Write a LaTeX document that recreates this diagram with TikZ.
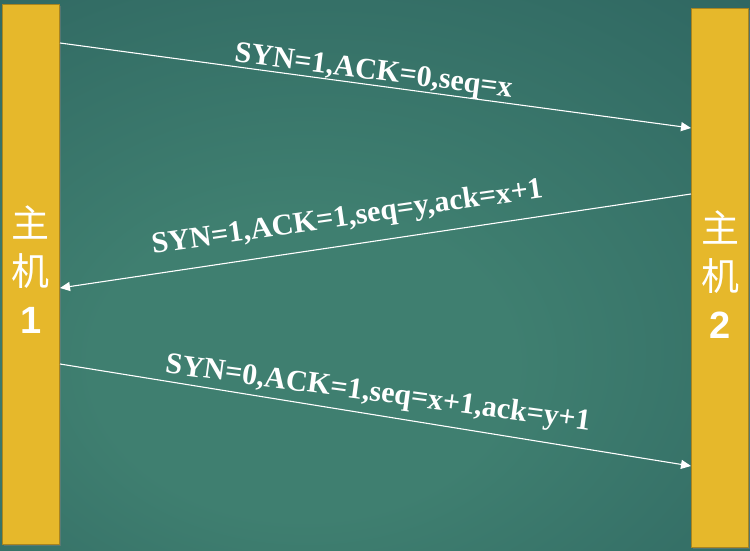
\documentclass[tikz,border=0pt]{standalone}
\usepackage{fontspec}
\setmainfont{Liberation Serif}
\newfontfamily\cjkfont{Noto Sans CJK SC}
\newfontfamily\numfont{Liberation Sans}
\usetikzlibrary{arrows.meta,shadows}
\definecolor{boardin}{HTML}{3F7F70}
\definecolor{boardout}{HTML}{1C4A50}
\definecolor{hostgold}{HTML}{E6B82B}
\definecolor{hostedge}{HTML}{A8841F}
\pgfdeclareradialshading{board}{\pgfpoint{-6bp}{-10bp}}{color(0bp)=(boardin); color(14bp)=(boardin); color(72bp)=(boardout)}
\begin{document}
\begin{tikzpicture}[x=1pt,y=-1pt,
  host/.style={draw=hostedge,line width=1pt,fill=hostgold,minimum width=57pt,inner sep=0pt,
    drop shadow={shadow xshift=1.5pt,shadow yshift=-1.5pt,opacity=0.45}},
  hostname/.style={text=white,align=center,font=\fontsize{38}{48}\selectfont},
  msg/.style={white,line width=1.1pt,-{Triangle[length=10pt,width=9pt]}},
  msglabel/.style={text=white,anchor=base,inner sep=0pt,font=\fontsize{30}{36}\selectfont\bfseries}]
\useasboundingbox (0,0) rectangle (750,551);
\shade[shading=board] (0,0) rectangle (750,551);

% hosts
\node[host,minimum height=539pt] (host1) at (31,274.5) {};
\node[host,minimum height=538pt] (host2) at (720,278) {};
\node[hostname] (name1) at (31,270) {\cjkfont 主\\\cjkfont 机\\\numfont\bfseries 1};
\node[hostname] (name2) at (720,275) {\cjkfont 主\\\cjkfont 机\\\numfont\bfseries 2};

\coordinate (s1) at (host1.east |- 0,43);
\coordinate (e1) at (host2.west |- 0,128);
\coordinate (s2) at (host2.west |- 0,194);
\coordinate (e2) at (host1.east |- 0,288);
\coordinate (s3) at (host1.east |- 0,364);
\coordinate (e3) at (host2.west |- 0,466);

% handshake
\draw[msg] (s1) -- (e1);
\draw[msg] (s2) -- (e2);
\draw[msg] (s3) -- (e3);

\node[msglabel,rotate=-7.3] (m1) at (372.5,79.5) {SYN=1,ACK=0,seq=x};
\node[msglabel,rotate=8.2] (m2) at (348.5,225.5) {SYN=1,ACK=1,seq=y,ack=x+1};
\node[msglabel,rotate=-7.7] (m3) at (377,401.5) {SYN=0,ACK=1,seq=x+1,ack=y+1};
\end{tikzpicture}
\end{document}
